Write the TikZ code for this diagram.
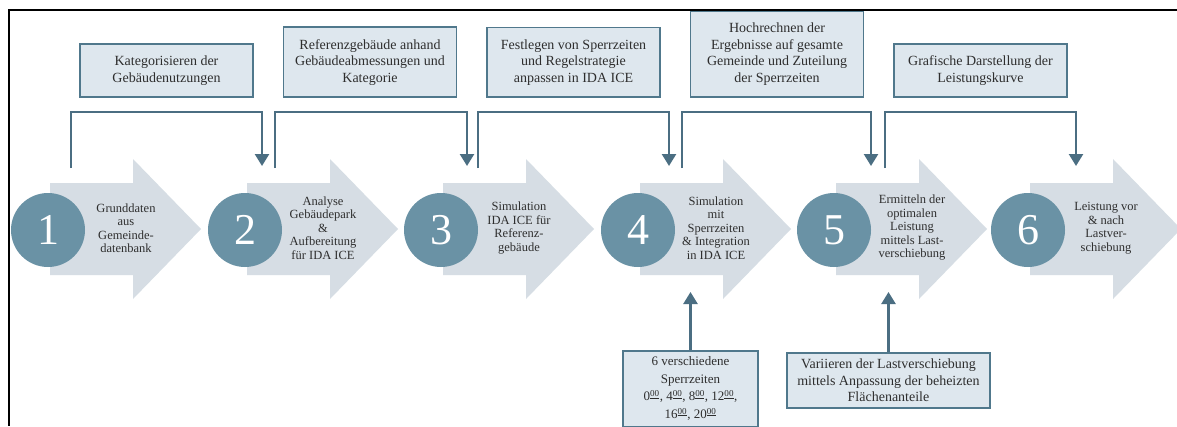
\documentclass[tikz,border=0pt]{standalone}
\usepackage{fontspec}
\setmainfont{Liberation Serif}
\usepackage{tikz}
\usepackage{xcolor}
\usetikzlibrary{arrows.meta, positioning}

\definecolor{circblue}{HTML}{6A92A5}
\definecolor{arrowgrey}{HTML}{D6DDE4}
\definecolor{boxfill}{HTML}{DEE7EE}
\definecolor{boxline}{HTML}{50788C}
\definecolor{linkblue}{HTML}{4B6E82}
\definecolor{txtgrey}{HTML}{2E2E2E}

\tikzset{
  numcircle/.style={circle, fill=circblue, minimum size=74pt, inner sep=0pt, text=white, font=\fontsize{44}{44}\selectfont},
  chevron/.style={fill=arrowgrey},
  steptext/.style={align=center, text=txtgrey, font=\fontsize{12.5}{13.5}\selectfont},
  taskbox/.style={draw=boxline, fill=boxfill, line width=1.8pt, align=center, text=txtgrey, font=\fontsize{14}{16.5}\selectfont, minimum width=173pt, inner ysep=12pt},
  link/.style={draw=linkblue, line width=2.4pt, -{Triangle[width=14pt,length=12pt]}},
}

\begin{document}
\begin{tikzpicture}[x=1pt, y=-1pt]
\useasboundingbox (0,0) rectangle (1177,426);
\fill[white] (0,0) rectangle (1177,426);

% big arrows
\fill[chevron] (50,183) -- (133,183) -- (133,159) -- (201,229) -- (133,299) -- (133,275) -- (50,275) -- cycle;
\fill[chevron] (247,183) -- (330,183) -- (330,159) -- (398,229) -- (330,299) -- (330,275) -- (247,275) -- cycle;
\fill[chevron] (443,183) -- (526,183) -- (526,159) -- (594,229) -- (526,299) -- (526,275) -- (443,275) -- cycle;
\fill[chevron] (640,183) -- (723,183) -- (723,159) -- (791,229) -- (723,299) -- (723,275) -- (640,275) -- cycle;
\fill[chevron] (836,183) -- (919,183) -- (919,159) -- (987,229) -- (919,299) -- (919,275) -- (836,275) -- cycle;
\fill[chevron] (1030,183) -- (1113,183) -- (1113,159) -- (1181,229) -- (1113,299) -- (1113,275) -- (1030,275) -- cycle;

% numbered steps
\node[numcircle] (c1) at (48,230) {1};
\node[numcircle] (c2) at (245,230) {2};
\node[numcircle] (c3) at (441,230) {3};
\node[numcircle] (c4) at (638,230) {4};
\node[numcircle] (c5) at (834,230) {5};
\node[numcircle] (c6) at (1028,230) {6};

\node[steptext] (t1) at (126,228) {Grunddaten\\aus\\Gemeinde-\\datenbank};
\node[steptext] (t2) at (323,228) {Analyse\\Gebäudepark\\\&\\Aufbereitung\\für IDA ICE};
\node[steptext] (t3) at (519,228) {Simulation\\IDA ICE für\\Referenz-\\gebäude};
\node[steptext] (t4) at (716,228) {Simulation\\mit\\Sperrzeiten\\\& Integration\\in IDA ICE};
\node[steptext] (t5) at (912,228) {Ermitteln der\\optimalen\\Leistung\\mittels Last-\\verschiebung};
\node[steptext] (t6) at (1106,228) {Leistung vor\\\& nach\\Lastver-\\schiebung};

% tasks above
\node[taskbox, anchor=south] (b1) at (166.5,98) {Kategorisieren der\\Gebäudenutzungen};
\node[taskbox, anchor=south] (b2) at (370,98) {Referenzgebäude anhand\\Gebäudeabmessungen und\\Kategorie};
\node[taskbox, anchor=south] (b3) at (573.5,98) {Festlegen von Sperrzeiten\\und Regelstrategie\\anpassen in IDA ICE};
\node[taskbox, anchor=south] (b4) at (777,98) {Hochrechnen der\\Ergebnisse auf gesamte\\Gemeinde und Zuteilung\\der Sperrzeiten};
\node[taskbox, anchor=south] (b5) at (980.5,98) {Grafische Darstellung der\\Leistungskurve};

% inputs below
\node[taskbox, anchor=north, minimum width=135pt, inner ysep=6pt, font=\fontsize{13}{17.5}\selectfont] (in4) at (690.5,350)
  {6 verschiedene\\Sperrzeiten\\0\textsuperscript{\underline{00}}, 4\textsuperscript{\underline{00}}, 8\textsuperscript{\underline{00}}, 12\textsuperscript{\underline{00}},\\16\textsuperscript{\underline{00}}, 20\textsuperscript{\underline{00}}};
\node[taskbox, anchor=north, minimum width=203pt, inner ysep=6pt] (in5) at (888.5,352)
  {Variieren der Lastverschiebung\\mittels Anpassung der beheizten\\Flächenanteile};

% brackets
\coordinate (s1) at (71,168);   \coordinate (e1) at (262,166);
\coordinate (s2) at (275,168);  \coordinate (e2) at (467,166);
\coordinate (s3) at (478,168);  \coordinate (e3) at (669,166);
\coordinate (s4) at (682,168);  \coordinate (e4) at (871,166);
\coordinate (s5) at (885,168);  \coordinate (e5) at (1076,166);

\draw[link] (s1) -- ++(0,-56) -| (e1);
\draw[link] (s2) -- ++(0,-56) -| (e2);
\draw[link] (s3) -- ++(0,-56) -| (e3);
\draw[link] (s4) -- ++(0,-56) -| (e4);
\draw[link] (s5) -- ++(0,-56) -| (e5);

\draw[link] (in4.north) -- ++(0,-58);
\draw[link] (in5.north) -- ++(0,-60);

% frame
\draw[line width=2pt] (1177,10) -- (9,10) -- (9,426);
\end{tikzpicture}
\end{document}
